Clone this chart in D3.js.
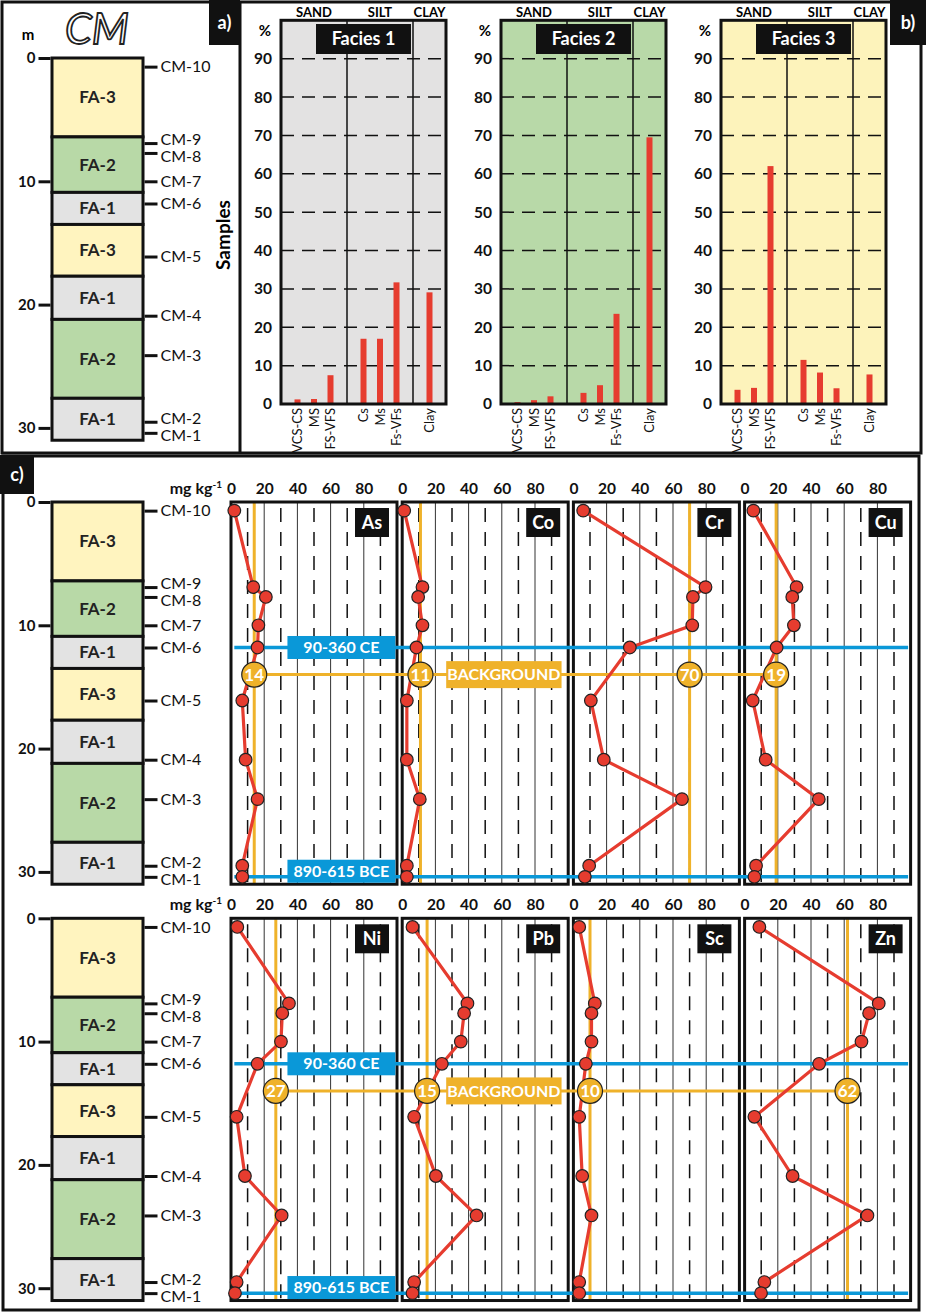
<!DOCTYPE html>
<html><head><meta charset="utf-8">
<script src="https://cdn.jsdelivr.net/npm/d3@7"></script>
<style>
body{margin:0;background:#fff;}
svg{display:block;}
</style></head><body>
<svg id="chart" width="926" height="1314"></svg>
<script>
// ---------------- DATA ----------------
const depthTicks = [0, 10, 20, 30];
const layerFacies = ["FA-3", "FA-2", "FA-1", "FA-3", "FA-1", "FA-2", "FA-1"];
const layerTop    = [0, 6.4, 10.9, 13.5, 17.7, 21.2, 27.6];
const layerBottom = [6.4, 10.9, 13.5, 17.7, 21.2, 27.6, 31.0];
const samples     = ["CM-10", "CM-9", "CM-8", "CM-7", "CM-6", "CM-5", "CM-4", "CM-3", "CM-2", "CM-1"];
const sampleDepth = [0.7, 6.9, 7.7, 10.0, 11.8, 16.1, 20.9, 24.1, 29.5, 30.4];

const grainGroups  = ["SAND", "SILT", "CLAY"];
const grainClasses = ["VCS-CS", "MS", "FS-VFS", "Cs", "Ms", "Fs-VFs", "Clay"];
const faciesNames  = ["Facies 1", "Facies 2", "Facies 3"];
const facies1 = [1.2, 1.3, 7.5, 17, 17, 31.7, 29.1];
const facies2 = [0.5, 1.0, 2.0, 2.9, 4.9, 23.5, 69.5];
const facies3 = [3.7, 4.2, 62.0, 11.5, 8.2, 4.1, 7.7];
const percentTicks = [0, 10, 20, 30, 40, 50, 60, 70, 80, 90];

const concTicks = [0, 20, 40, 60, 80];
const concGrid  = [10, 20, 30, 40, 50, 60, 70, 80, 90];
const upperElements = ["As", "Co", "Cr", "Cu"];
const lowerElements = ["Ni", "Pb", "Sc", "Zn"];
const As = [2, 13.4, 21, 16.5, 16, 6.8, 8.8, 16, 6.8, 6.8];
const Co = [1.2, 12.2, 9.6, 12.2, 8.6, 2.8, 2.8, 10.6, 2.8, 2.8];
const Cr = [5.9, 79.6, 72, 71.6, 34, 10.5, 18.3, 65.4, 9.5, 6.9];
const Cu = [5.3, 31.3, 28.7, 29.7, 19.3, 4.9, 12.7, 44.7, 6.9, 5.9];
const Ni = [3.8, 34.9, 30.9, 30.1, 16, 3.4, 8.4, 30.5, 3.4, 2.4];
const Pb = [6.2, 39.3, 37.3, 35.3, 23.9, 7.2, 20.3, 44.8, 7.2, 6.2];
const Sc = [3.5, 12.9, 10.9, 10.9, 7.5, 3.5, 5.3, 10.9, 3.5, 3.5];
const Zn = [8.9, 80.8, 75, 70.4, 44.9, 5.9, 28.9, 74, 11.9, 9.9];
const upperBackground = [14, 11, 70, 19];
const lowerBackground = [27, 15, 10, 62];
const backgroundDepth = 14.0;
const ageLabels = ["90-360 CE", "890-615 BCE"];
const ageDepths = [11.8, 30.4];

// ---------------- STYLE / LAYOUT ----------------
const FONT = "Lato, 'Open Sans', 'DejaVu Sans', sans-serif";
const svg = d3.select("#chart").attr("font-family", FONT);
svg.append("rect").attr("width", 926).attr("height", 1314).attr("fill", "#fff");

const PX_PER_M = 12.33;
const COL_X0 = 52, COL_X1 = 143;
const faciesFill = {"FA-1": "#e3e3e3", "FA-2": "#b8d9a7", "FA-3": "#fff4bf"};
const panelFill = ["#e3e2e2", "#b8d9a8", "#fdf3bb"];
const RED = "#e63c2f", ORANGE = "#efb22a", BLUE = "#0a98d8", INK = "#111";

function depthScale(y0) {
  return d3.scaleLinear().domain([0, 31]).range([y0, y0 + 31 * PX_PER_M]);
}

// ---------------- FRAMES ----------------
svg.append("rect").attr("x", 2).attr("y", 2).attr("width", 919).attr("height", 451)
  .attr("fill", "none").attr("stroke", INK).attr("stroke-width", 3);
svg.append("line").attr("x1", 240).attr("x2", 240).attr("y1", 2).attr("y2", 453)
  .attr("stroke", INK).attr("stroke-width", 3);
svg.append("rect").attr("x", 3).attr("y", 456).attr("width", 916).attr("height", 854)
  .attr("fill", "none").attr("stroke", INK).attr("stroke-width", 3);

function tagBox(x, y, w, h, txt) {
  svg.append("rect").attr("x", x).attr("y", y).attr("width", w).attr("height", h).attr("fill", "#111");
  svg.append("text").attr("x", x + w / 2).attr("y", y + h / 2).attr("dy", "0.35em")
    .attr("text-anchor", "middle").attr("fill", "#fff").attr("font-weight", 700)
    .attr("font-size", 18).text(txt);
}
tagBox(209, 0, 31, 45, "a)");
tagBox(890, 0, 36, 45, "b)");
tagBox(0, 455, 34, 39, "c)");

// ---------------- COLUMN ----------------
function drawColumn(y0) {
  const y = depthScale(y0);
  const g = svg.append("g");
  g.selectAll("rect").data(layerFacies).join("rect")
    .attr("x", COL_X0).attr("width", COL_X1 - COL_X0)
    .attr("y", (d, i) => y(layerTop[i]))
    .attr("height", (d, i) => y(layerBottom[i]) - y(layerTop[i]))
    .attr("fill", d => faciesFill[d]).attr("stroke", INK).attr("stroke-width", 3);
  g.selectAll("text.fa").data(layerFacies).join("text").attr("class", "fa")
    .attr("x", (COL_X0 + COL_X1) / 2)
    .attr("y", (d, i) => (y(layerTop[i]) + y(layerBottom[i])) / 2)
    .attr("dy", "0.35em").attr("text-anchor", "middle")
    .attr("font-size", 17).attr("font-weight", 700).attr("fill", "#222").text(d => d);

  const ax = g.append("g").attr("transform", `translate(${COL_X0 - 1.5},0)`)
    .call(d3.axisLeft(y).tickValues(depthTicks).tickSize(12).tickPadding(3));
  ax.attr("font-family", FONT).attr("font-size", 15);
  ax.select(".domain").remove();
  ax.selectAll("line").attr("stroke", INK).attr("stroke-width", 3);
  ax.selectAll("text").attr("font-weight", 700).attr("fill", INK);

  const sx = g.append("g").attr("transform", `translate(${COL_X1 + 1.5},0)`)
    .call(d3.axisRight(y).tickValues(sampleDepth).tickFormat((d, i) => samples[i]).tickSize(13).tickPadding(3));
  sx.attr("font-family", FONT).attr("font-size", 16);
  sx.select(".domain").remove();
  sx.selectAll("line").attr("stroke", INK).attr("stroke-width", 3);
  // dodge overlapping labels
  const MIN_GAP = 17;
  const pos = sampleDepth.map(d => y(d));
  const off = pos.map(() => 0);
  for (let i = 0; i < pos.length - 1; i++) {
    const gap = pos[i + 1] - pos[i];
    if (gap < MIN_GAP) { off[i] -= (MIN_GAP - gap) / 2; off[i + 1] += (MIN_GAP - gap) / 2; }
  }
  sx.selectAll("text").attr("fill", INK).attr("y", (d, i) => off[i]);
  return y;
}

// top column
drawColumn(58);
svg.append("text").attr("x", 28).attr("y", 40).attr("text-anchor", "middle")
  .attr("font-weight", 700).attr("font-size", 15).text("m");
svg.append("text").attr("x", 97).attr("y", 44).attr("text-anchor", "middle")
  .attr("font-style", "italic").attr("font-size", 43).attr("fill", "#fff")
  .attr("stroke", "#222").attr("stroke-width", 1.8).text("CM");
svg.append("text").attr("transform", "translate(223,235) rotate(-90)")
  .attr("text-anchor", "middle").attr("dy", "0.35em")
  .attr("font-weight", 700).attr("font-size", 19).text("Samples");

// ---------------- FACIES BAR PANELS ----------------
const FAC_X0 = 281, FAC_STEP = 220, FAC_W = 165;
const yPct = d3.scaleLinear().domain([0, 100]).range([404, 20.3]);
const slotDomain = ["s0", ...grainClasses.slice(0, 3), "b1", ...grainClasses.slice(3, 6), "b2", grainClasses[6], "s1"];
const faciesData = [facies1, facies2, facies3];

faciesData.forEach((vals, k) => {
  const left = FAC_X0 + k * FAC_STEP;
  const x = d3.scalePoint().domain(slotDomain).range([left, left + FAC_W]);
  const g = svg.append("g");
  g.append("rect").attr("x", left).attr("y", yPct(100)).attr("width", FAC_W)
    .attr("height", yPct(0) - yPct(100)).attr("fill", panelFill[k]);
  g.selectAll("line.grid").data(percentTicks.slice(1)).join("line").attr("class", "grid")
    .attr("x1", left).attr("x2", left + FAC_W).attr("y1", d => yPct(d)).attr("y2", d => yPct(d))
    .attr("stroke", INK).attr("stroke-width", 1.5).attr("stroke-dasharray", "13,8");
  ["b1", "b2"].forEach(s => g.append("line").attr("x1", x(s)).attr("x2", x(s))
    .attr("y1", yPct(100)).attr("y2", yPct(0)).attr("stroke", INK).attr("stroke-width", 1.5));
  g.selectAll("rect.bar").data(vals).join("rect").attr("class", "bar")
    .attr("x", (d, i) => x(grainClasses[i]) - 3).attr("width", 6)
    .attr("y", d => yPct(d)).attr("height", d => yPct(0) - yPct(d)).attr("fill", RED);
  g.append("rect").attr("x", left).attr("y", yPct(100)).attr("width", FAC_W)
    .attr("height", yPct(0) - yPct(100)).attr("fill", "none").attr("stroke", INK).attr("stroke-width", 3);
  g.append("rect").attr("x", left + 35).attr("y", 24).attr("width", 95).attr("height", 30).attr("fill", "#111");
  g.append("text").attr("x", left + 82.5).attr("y", 39).attr("dy", "0.35em").attr("text-anchor", "middle")
    .attr("fill", "#fff").attr("font-weight", 700).attr("font-size", 18).text(faciesNames[k]);
  const hx = [x("MS"), x("Ms"), x("Clay")];
  g.selectAll("text.grp").data(grainGroups).join("text").attr("class", "grp")
    .attr("x", (d, i) => hx[i]).attr("y", 17).attr("text-anchor", "middle")
    .attr("font-weight", 700).attr("font-size", 13).text(d => d);
  const ay = g.append("g").attr("transform", `translate(${left},0)`)
    .call(d3.axisLeft(yPct).tickValues(percentTicks).tickSize(0).tickPadding(9));
  ay.attr("font-family", FONT).attr("font-size", 15.5);
  ay.select(".domain").remove();
  ay.selectAll("text").attr("font-weight", 700).attr("fill", INK);
  g.append("text").attr("x", left - 16).attr("y", 36).attr("text-anchor", "middle")
    .attr("font-weight", 700).attr("font-size", 15).text("%");
  g.selectAll("text.xl").data(grainClasses).join("text").attr("class", "xl")
    .attr("transform", d => `translate(${x(d)},408) rotate(-90)`)
    .attr("text-anchor", "end").attr("dy", "0.35em").attr("font-size", 13).attr("fill", INK).text(d => d);
});

// ---------------- ELEMENT BLOCKS ----------------
const PANEL_X0 = 231, PANEL_STEP = 171.2, PANEL_W = 166;

function drawElementBlock(y0, names, series, bgVals) {
  const y = drawColumn(y0);
  const xs = names.map((n, i) => d3.scaleLinear().domain([0, 100])
    .range([PANEL_X0 + i * PANEL_STEP, PANEL_X0 + i * PANEL_STEP + PANEL_W]));
  const top = y(0), bot = y(31);

  names.forEach((name, i) => {
    const x = xs[i];
    const g = svg.append("g");
    g.append("rect").attr("x", x(0)).attr("y", top).attr("width", x(100) - x(0)).attr("height", bot - top).attr("fill", "#fff");
    g.selectAll("line.grid").data(concGrid).join("line").attr("class", "grid")
      .attr("x1", d => x(d)).attr("x2", d => x(d)).attr("y1", top).attr("y2", bot)
      .attr("stroke", d => d % 20 === 0 ? "#333" : INK)
      .attr("stroke-width", d => d % 20 === 0 ? 1 : 1.5)
      .attr("stroke-dasharray", d => d % 20 === 0 ? null : "14,10")
      .attr("stroke-dashoffset", -6);
    g.append("line").attr("x1", x(bgVals[i])).attr("x2", x(bgVals[i])).attr("y1", top + 1).attr("y2", bot - 1)
      .attr("stroke", ORANGE).attr("stroke-width", 3);
    g.append("rect").attr("x", x(0)).attr("y", top).attr("width", x(100) - x(0)).attr("height", bot - top)
      .attr("fill", "none").attr("stroke", INK).attr("stroke-width", 3);
    const ax = g.append("g").attr("transform", `translate(0,${top - 8})`)
      .call(d3.axisTop(x).tickValues(concTicks).tickSize(0).tickPadding(0));
    ax.attr("font-family", FONT).attr("font-size", 15.5);
    ax.select(".domain").remove();
    ax.selectAll("text").attr("font-weight", 700).attr("fill", INK);
  });

  const u = svg.append("text").attr("x", 222).attr("y", top - 8).attr("text-anchor", "end")
    .attr("font-weight", 700).attr("font-size", 16).attr("fill", INK);
  u.append("tspan").text("mg kg");
  u.append("tspan").attr("font-size", 10).attr("dy", -6).text("-1");

  ageDepths.forEach((d, k) => {
    svg.append("line").attr("x1", xs[0](2)).attr("x2", xs[3](98.5)).attr("y1", y(d)).attr("y2", y(d))
      .attr("stroke", BLUE).attr("stroke-width", 3.5);
  });
  svg.append("line").attr("x1", xs[0](bgVals[0])).attr("x2", xs[3](bgVals[3]))
    .attr("y1", y(backgroundDepth)).attr("y2", y(backgroundDepth)).attr("stroke", ORANGE).attr("stroke-width", 3);

  const line = d3.line().x(d => d.x).y(d => d.y);
  names.forEach((name, i) => {
    const x = xs[i];
    const pts = series[i].map((v, j) => ({x: x(v), y: y(sampleDepth[j])}));
    svg.append("path").attr("d", line(pts)).attr("fill", "none").attr("stroke", RED).attr("stroke-width", 3.2);
    svg.append("g").selectAll("circle").data(pts).join("circle")
      .attr("cx", d => d.x).attr("cy", d => d.y).attr("r", 6.3)
      .attr("fill", RED).attr("stroke", "#222").attr("stroke-width", 1.2);
  });

  ageDepths.forEach((d, k) => {
    const cy = Math.min(y(d), bot - 13);
    const x0 = xs[0](34), x1 = xs[0](99);
    svg.append("rect").attr("x", x0).attr("y", cy - 11.5).attr("width", x1 - x0).attr("height", 23).attr("fill", BLUE);
    svg.append("text").attr("x", (x0 + x1) / 2).attr("y", cy).attr("dy", "0.35em").attr("text-anchor", "middle")
      .attr("fill", "#fff").attr("font-weight", 700).attr("font-size", 16).text(ageLabels[k]);
  });

  const bx0 = xs[1](26.5), bx1 = xs[1](96);
  const by = y(backgroundDepth);
  svg.append("rect").attr("x", bx0).attr("y", by - 13.5).attr("width", bx1 - bx0).attr("height", 27).attr("fill", ORANGE);
  svg.append("text").attr("x", (bx0 + bx1) / 2).attr("y", by).attr("dy", "0.35em").attr("text-anchor", "middle")
    .attr("fill", "#fff").attr("font-weight", 700).attr("font-size", 16).text("BACKGROUND");

  names.forEach((name, i) => {
    const cx = xs[i](bgVals[i]);
    svg.append("circle").attr("cx", cx).attr("cy", by).attr("r", 12.5)
      .attr("fill", ORANGE).attr("stroke", "#222").attr("stroke-width", 1.2);
    svg.append("text").attr("x", cx).attr("y", by).attr("dy", "0.35em").attr("text-anchor", "middle")
      .attr("fill", "#fff").attr("font-weight", 700).attr("font-size", 17).text(bgVals[i]);
  });

  names.forEach((name, i) => {
    const x = xs[i];
    const w = 34, h = 29;
    svg.append("rect").attr("x", x(100) - 8 - w).attr("y", top + 6).attr("width", w).attr("height", h).attr("fill", "#111");
    svg.append("text").attr("x", x(100) - 8 - w / 2).attr("y", top + 6 + h / 2).attr("dy", "0.35em")
      .attr("text-anchor", "middle").attr("fill", "#fff").attr("font-weight", 700).attr("font-size", 18).text(name);
  });
}

drawElementBlock(502, upperElements, [As, Co, Cr, Cu], upperBackground);
drawElementBlock(918.3, lowerElements, [Ni, Pb, Sc, Zn], lowerBackground);
</script>
</body></html>
